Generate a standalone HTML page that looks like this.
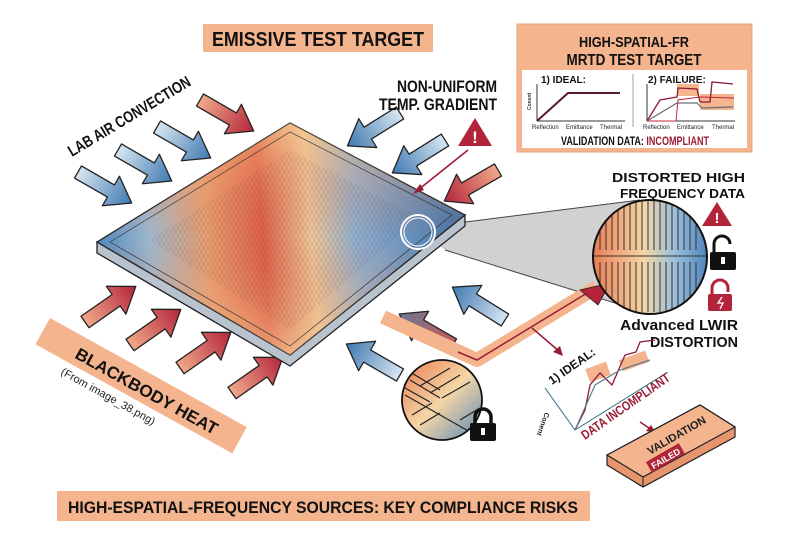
<!DOCTYPE html>
<html><head><meta charset="utf-8"><style>
html,body{margin:0;padding:0;background:#fff;}
svg{display:block;font-family:"Liberation Sans",sans-serif;font-weight:bold;}
</style></head><body>
<svg width="800" height="533" viewBox="0 0 800 533" xmlns="http://www.w3.org/2000/svg">
<defs>
<linearGradient id="plate" x1="97" y1="242" x2="465" y2="215" gradientUnits="userSpaceOnUse">
<stop offset="0" stop-color="#4f86bd"/><stop offset="0.14" stop-color="#9bb8cf"/><stop offset="0.3" stop-color="#e9a070"/><stop offset="0.45" stop-color="#de5f47"/><stop offset="0.58" stop-color="#f0c99a"/><stop offset="0.7" stop-color="#8fb2d2"/><stop offset="1" stop-color="#3c6fa6"/>
</linearGradient>
<linearGradient id="plate2" x1="290" y1="123" x2="290" y2="355" gradientUnits="userSpaceOnUse">
<stop offset="0" stop-color="#f6c98e" stop-opacity="0.55"/><stop offset="0.5" stop-color="#e06a4a" stop-opacity="0"/><stop offset="1" stop-color="#f4d49a" stop-opacity="0.55"/>
</linearGradient>
<linearGradient id="mag" x1="0" y1="0" x2="1" y2="0">
<stop offset="0" stop-color="#e9774f"/><stop offset="0.45" stop-color="#f4d6a6"/><stop offset="0.7" stop-color="#9cc0dc"/><stop offset="1" stop-color="#4a80b8"/>
</linearGradient>
<linearGradient id="mag2" x1="0" y1="0" x2="1" y2="1">
<stop offset="0" stop-color="#e9774f"/><stop offset="0.5" stop-color="#f4d6a6"/><stop offset="1" stop-color="#4a80b8"/>
</linearGradient>
<linearGradient id="red" x1="0" y1="0" x2="1" y2="0"><stop offset="0" stop-color="#f1a98a"/><stop offset="1" stop-color="#b3243b"/></linearGradient>
<linearGradient id="blue" x1="0" y1="0" x2="1" y2="0"><stop offset="0" stop-color="#d7e6f1"/><stop offset="1" stop-color="#3f78b0"/></linearGradient>
<linearGradient id="gray" x1="0" y1="0" x2="1" y2="0"><stop offset="0" stop-color="#c45a5a"/><stop offset="1" stop-color="#6d7894"/></linearGradient>
<pattern id="lines" width="4" height="4" patternUnits="userSpaceOnUse" patternTransform="rotate(-30)"><line x1="0" y1="0" x2="0" y2="4" stroke="#5a3a3a" stroke-width="0.6" opacity="0.45"/></pattern>
<pattern id="lines2" width="4" height="4" patternUnits="userSpaceOnUse" patternTransform="rotate(30)"><line x1="0" y1="0" x2="0" y2="4" stroke="#5a3a3a" stroke-width="0.6" opacity="0.35"/></pattern>
<g id="arr"><path d="M0,-7 L38,-7 L38,-17 L62,0 L38,17 L38,7 L0,7 Z" stroke="#222" stroke-width="1.3" stroke-linejoin="round"/></g>
<clipPath id="cb"><circle cx="650" cy="257" r="57"/></clipPath>
<clipPath id="cs"><circle cx="442" cy="400" r="40"/></clipPath>
</defs>

<rect x="203" y="24" width="230" height="28" fill="#f4b48e"/>
<text x="318" y="46" font-size="20" text-anchor="middle" textLength="212" lengthAdjust="spacingAndGlyphs" fill="#111">EMISSIVE TEST TARGET</text>

<polygon points="418,228 640,200 650,314 445,250" fill="#bdbdbd" opacity="0.7"/>
<line x1="418" y1="228" x2="640" y2="200" stroke="#444" stroke-width="1"/>
<line x1="445" y1="250" x2="650" y2="314" stroke="#444" stroke-width="1"/>

<use href="#arr" fill="url(#red)" transform="translate(200,100) rotate(30)"/>
<use href="#arr" fill="url(#blue)" transform="translate(157,127) rotate(30)"/>
<use href="#arr" fill="url(#blue)" transform="translate(118,150) rotate(30)"/>
<use href="#arr" fill="url(#blue)" transform="translate(78,172) rotate(30)"/>
<use href="#arr" fill="url(#blue)" transform="translate(400,113) rotate(148)"/>
<use href="#arr" fill="url(#blue)" transform="translate(445,140) rotate(148)"/>
<use href="#arr" fill="url(#red)" transform="translate(498,170) rotate(150)"/>
<use href="#arr" fill="url(#red)" transform="translate(85,322) rotate(-35)"/>
<use href="#arr" fill="url(#red)" transform="translate(130,345) rotate(-35)"/>
<use href="#arr" fill="url(#red)" transform="translate(180,368) rotate(-35)"/>
<use href="#arr" fill="url(#red)" transform="translate(232,393) rotate(-35)"/>
<use href="#arr" fill="url(#blue)" transform="translate(400,375) rotate(-150)"/>
<use href="#arr" fill="url(#gray)" transform="translate(453,345) rotate(-150)"/>
<use href="#arr" fill="url(#blue)" transform="translate(505,320) rotate(-148)"/>

<g transform="translate(50,318) rotate(29)">
<rect x="0" y="0" width="225" height="30" fill="#f4b48e"/>
<text x="40" y="23" font-size="17" fill="#111" textLength="160" lengthAdjust="spacingAndGlyphs">BLACKBODY HEAT</text>
<text x="36" y="44" font-size="11" font-weight="normal" fill="#222">(From image_38.png)</text>
</g>

<polygon points="97,242 97,253 290,366 465,226 465,215 290,355" fill="#b9c3cd" stroke="#222" stroke-width="1.3"/>
<polygon points="97,242 290,123 465,215 290,355" fill="url(#plate)" stroke="#222" stroke-width="1.3"/>
<polygon points="97,242 290,123 465,215 290,355" fill="url(#plate2)"/>
<polygon points="150,240 290,150 420,218 290,330" fill="url(#lines)"/>
<polygon points="150,240 290,150 420,218 290,330" fill="url(#lines2)"/>
<polygon points="110,242 290,132 452,215 290,346" fill="none" stroke="#333" stroke-width="0.7"/>
<circle cx="418" cy="232" r="17" fill="none" stroke="#fff" stroke-width="2"/>
<circle cx="418" cy="232" r="14" fill="none" stroke="#fff" stroke-width="1"/>

<text x="72" y="157" font-size="16" fill="#111" transform="rotate(-31 72 157)" textLength="140" lengthAdjust="spacingAndGlyphs">LAB AIR CONVECTION</text>
<text x="497" y="92" font-size="17" text-anchor="end" fill="#111" textLength="100" lengthAdjust="spacingAndGlyphs">NON-UNIFORM</text>
<text x="497" y="110" font-size="17" text-anchor="end" fill="#111" textLength="118" lengthAdjust="spacingAndGlyphs">TEMP. GRADIENT</text>
<polygon points="475,118 458,146 492,146" fill="#b3243b"/>
<text x="475" y="143" font-size="17" text-anchor="middle" fill="#fff">!</text>
<line x1="468" y1="150" x2="418" y2="190" stroke="#9b1c35" stroke-width="1.6"/>
<polygon points="413,194 420,184 424,190" fill="#9b1c35"/>

<rect x="517" y="24" width="235" height="128" fill="#f4b48e" stroke="#e7a37d"/>
<text x="634" y="47" font-size="15" text-anchor="middle" fill="#111" textLength="110" lengthAdjust="spacingAndGlyphs">HIGH-SPATIAL-FR</text>
<text x="634" y="65" font-size="16" text-anchor="middle" fill="#111" textLength="135" lengthAdjust="spacingAndGlyphs">MRTD TEST TARGET</text>
<rect x="522" y="70" width="225" height="78" fill="#fff"/>
<line x1="633" y1="74" x2="633" y2="127" stroke="#888" stroke-width="0.8"/>
<text x="541" y="83" font-size="10" fill="#111">1) IDEAL:</text>
<line x1="537" y1="121" x2="625" y2="121" stroke="#333"/>
<line x1="537" y1="121" x2="537" y2="84" stroke="#333"/>
<polyline points="537,121 568,93 620,93" fill="none" stroke="#5a1a2a" stroke-width="2"/>
<text x="531" y="110" font-size="5" fill="#333" transform="rotate(-90 531 110)">Conent</text>
<text x="532" y="129" font-size="6" font-weight="normal" fill="#222">Reflection</text>
<text x="566" y="129" font-size="6" font-weight="normal" fill="#222">Emittance</text>
<text x="600" y="129" font-size="6" font-weight="normal" fill="#222">Thermal</text>
<text x="648" y="83" font-size="10" fill="#111">2) FAILURE:</text>
<line x1="647" y1="121" x2="735" y2="121" stroke="#333"/>
<line x1="647" y1="121" x2="647" y2="84" stroke="#333"/>
<rect x="677" y="84" width="22" height="12" fill="#f4b48e"/>
<rect x="700" y="94" width="34" height="16" fill="#f4b48e"/>
<polyline points="647,121 660,100 677,97 678,88 697,89 700,102 710,102 712,82 733,84" fill="none" stroke="#8b1b33" stroke-width="1.3"/>
<polyline points="647,121 677,103 697,103 702,108 733,107" fill="none" stroke="#6a6a7a" stroke-width="1.2"/>
<polyline points="647,121 676,121 678,100 700,97 734,98" fill="none" stroke="#c0283a" stroke-width="1"/>
<text x="643" y="129" font-size="6" font-weight="normal" fill="#222">Reflection</text>
<text x="677" y="129" font-size="6" font-weight="normal" fill="#222">Emittance</text>
<text x="712" y="129" font-size="6" font-weight="normal" fill="#222">Thermal</text>
<text x="561" y="145" font-size="12" fill="#111" textLength="148" lengthAdjust="spacingAndGlyphs">VALIDATION DATA: <tspan fill="#9b1c35">INCOMPLIANT</tspan></text>

<polyline points="383,317 477,360 597,287" fill="none" stroke="#f4b48e" stroke-width="14" stroke-linejoin="round"/>
<polyline points="458,352 477,360 597,287" fill="none" stroke="#9b1c35" stroke-width="1.5"/>
<polygon points="580,290 610,283 598,305" fill="#b3243b" stroke="#222" stroke-width="0.8"/>
<line x1="532" y1="328" x2="560" y2="352" stroke="#9b1c35" stroke-width="1.5"/>
<polygon points="563,356 553,352 560,346" fill="#9b1c35"/>

<g clip-path="url(#cb)">
<rect x="590" y="198" width="120" height="120" fill="url(#mag)"/>
<g stroke="#333" stroke-width="1" fill="none">
<path d="M600,210 v40 M606,205 v45 M612,202 v48 M618,200 v50 M624,200 v50 M630,200 v50 M636,200 v50 M642,200 v50 M648,200 v50 M654,200 v50 M660,200 v50 M666,200 v50 M672,200 v50 M678,200 v50 M684,200 v50 M690,202 v48 M696,205 v45"/>
<path d="M600,262 v40 M606,262 v45 M612,262 v48 M618,262 v50 M624,262 v50 M630,262 v50 M636,262 v50 M642,262 v50 M648,262 v50 M654,262 v50 M660,262 v50 M666,262 v50 M672,262 v50 M678,262 v50 M684,262 v50 M690,262 v48 M696,262 v45"/>
<path d="M592,256 h116"/>
</g>
</g>
<circle cx="650" cy="257" r="57" fill="none" stroke="#111" stroke-width="2"/>

<text x="745" y="182" font-size="13" text-anchor="end" fill="#111" textLength="133" lengthAdjust="spacingAndGlyphs">DISTORTED HIGH</text>
<text x="745" y="198" font-size="13" text-anchor="end" fill="#111" textLength="125" lengthAdjust="spacingAndGlyphs">FREQUENCY DATA</text>
<polygon points="717,202 702,226 732,226" fill="#b3243b"/>
<text x="717" y="223" font-size="15" text-anchor="middle" fill="#fff">!</text>
<path d="M714,252 v-8 a8,8 0 0 1 16,0" fill="none" stroke="#111" stroke-width="3"/>
<rect x="710" y="252" width="26" height="18" rx="2" fill="#111"/>
<rect x="721" y="257" width="4" height="7" fill="#fff"/>
<path d="M712,296 v-8 a8,8 0 0 1 16,0 v4" fill="none" stroke="#b3243b" stroke-width="3"/>
<rect x="708" y="294" width="24" height="17" rx="2" fill="#b3243b"/>
<path d="M722,297 l-4,6 h5 l-3,6" fill="none" stroke="#fff" stroke-width="1.3"/>
<text x="738" y="330" font-size="15" text-anchor="end" fill="#111" textLength="118" lengthAdjust="spacingAndGlyphs">Advanced LWIR</text>
<text x="738" y="347" font-size="15" text-anchor="end" fill="#111" textLength="88" lengthAdjust="spacingAndGlyphs">DISTORTION</text>

<g clip-path="url(#cs)">
<rect x="400" y="358" width="85" height="85" fill="url(#mag2)"/>
<g stroke="#222" stroke-width="1.2" fill="none">
<path d="M405,395 L470,432 M410,372 l30,18 M410,380 l30,18 M405,388 l25,14 M450,368 l-30,18 M460,375 l-30,18 M470,382 l-28,16 M412,415 l20,-12 M420,425 l20,-12 M460,420 l20,-12"/>
</g>
</g>
<circle cx="442" cy="400" r="40" fill="none" stroke="#111" stroke-width="1.8"/>
<path d="M475,424 v-7 a8,8 0 0 1 16,0 v7" fill="none" stroke="#111" stroke-width="3.5"/>
<rect x="470" y="423" width="26" height="18" rx="2" fill="#111"/>
<rect x="481" y="428" width="4" height="7" fill="#fff"/>

<text x="552" y="385" font-size="12" fill="#111" transform="rotate(-35 552 385)">1) IDEAL:</text>
<line x1="575" y1="430" x2="545" y2="388" stroke="#2a6a7a" stroke-width="1"/>
<line x1="575" y1="430" x2="668" y2="372" stroke="#2a6a7a" stroke-width="1"/>
<rect x="587" y="365" width="22" height="14" fill="#f4b48e" transform="rotate(-20 598 372)"/>
<rect x="620" y="355" width="28" height="12" fill="#f4b48e" transform="rotate(-20 634 361)"/>
<polyline points="575,430 585,410 590,385 600,373 612,385 625,355 636,352 640,342 655,340" fill="none" stroke="#8b1b33" stroke-width="1.3"/>
<polyline points="575,430 595,385 620,370 650,360" fill="none" stroke="#5a7a8a" stroke-width="1.2"/>
<text x="545" y="412" font-size="7" fill="#222" transform="rotate(110 545 412)">Conent</text>
<text x="585" y="440" font-size="13" fill="#9b1c35" transform="rotate(-35 585 440)" textLength="105" lengthAdjust="spacingAndGlyphs">DATA INCOMPLIANT</text>
<line x1="640" y1="422" x2="652" y2="430" stroke="#9b1c35" stroke-width="1.5"/>
<polygon points="656,433 646,431 651,425" fill="#9b1c35"/>

<polygon points="607,455 700,405 735,427 735,437 643,487 607,465" fill="#e7956f" stroke="#222" stroke-width="1.2"/>
<polygon points="607,455 700,405 735,427 643,477" fill="#f4b48e" stroke="#222" stroke-width="1.2"/>
<line x1="643" y1="477" x2="643" y2="487" stroke="#222"/>
<text x="650" y="455" font-size="11" fill="#222" transform="rotate(-30 650 455)">VALIDATION</text>
<g transform="rotate(-30 662 462)"><rect x="648" y="454" width="38" height="12" fill="#b3243b"/><text x="667" y="464" font-size="9" fill="#fff" text-anchor="middle">FAILED</text></g>

<rect x="57" y="491" width="533" height="30" fill="#f4b48e"/>
<text x="323" y="513" font-size="17" text-anchor="middle" fill="#111" textLength="510" lengthAdjust="spacingAndGlyphs">HIGH-ESPATIAL-FREQUENCY SOURCES: KEY COMPLIANCE RISKS</text>
</svg>
</body></html>
